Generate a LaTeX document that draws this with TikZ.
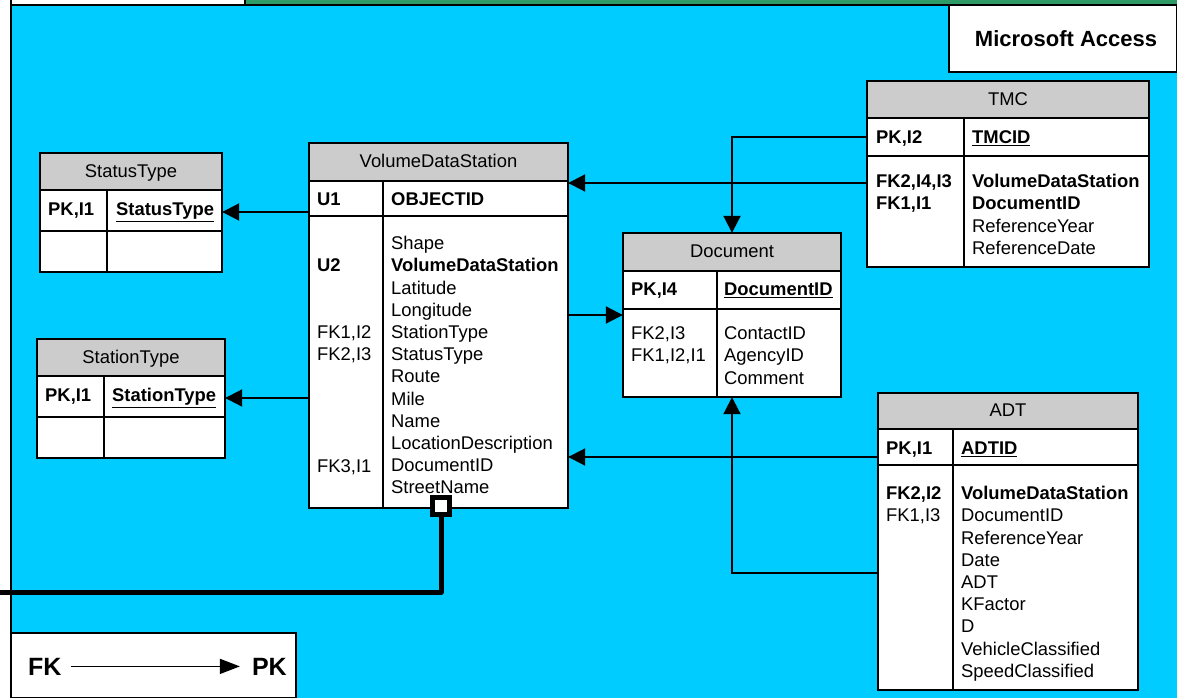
\documentclass[tikz,border=0pt]{standalone}
\usepackage{fontspec}
\setmainfont{Liberation Sans}
\usetikzlibrary{arrows.meta,fit}

\definecolor{bgcyan}{RGB}{0,204,255}
\definecolor{topgreen}{RGB}{46,154,102}
\definecolor{hdrgray}{RGB}{204,204,204}

\newcommand{\fld}{\fontsize{18.4}{22}\selectfont}

\tikzset{
  border/.style={line width=1.4pt},
  fldtxt/.style={anchor=base west, inner sep=0pt, font=\fld},
  ttl/.style={anchor=base, inner sep=0pt, font=\fld},
  fk/.style={line width=2pt, -{Triangle[length=17pt,width=17pt]}},
}

% entity box: name, left, top, right, bottom, header bottom, key-row bottom, divider x
\newcommand{\entity}[8]{%
  \node[fit={(#2,#3) (#4,#5)}, inner sep=0pt, fill=white] (#1) {};
  \fill[hdrgray] (#2,#3) rectangle (#4,#6);
  \draw[border] (#2,#3) rectangle (#4,#5);
  \draw[border] (#2,#6) -- (#4,#6) (#2,#7) -- (#4,#7) (#8,#6) -- (#8,#5);
}
% a column of field names: x, centre y of first line, list
\newcommand{\fieldcol}[3]{%
  \foreach \entry [count=\i from 0] in {#3}
    {\node[fldtxt] at (#1,{#2+6.6+22.2*\i}) {\entry};}
}
\newcommand{\fieldat}[3]{\node[fldtxt] at (#1,{#2+6.6}) {#3};}
\newcommand{\titleat}[3]{\node[ttl] at (#1,{#2+6.6}) {#3};}

\begin{document}
\begin{tikzpicture}[x=1pt,y=-1pt]
\useasboundingbox (0,0) rectangle (1177,698);

% backdrop
\fill[white] (0,0) rectangle (1177,698);
\fill[bgcyan] (11,5) rectangle (1177,698);
\fill[topgreen] (245,0) rectangle (1177,5);
\draw[border] (11,0) -- (11,698);
\draw[border] (11,5) -- (1177,5);
\draw[border] (245,0) -- (245,5);

% title and legend panels
\node[fit={(949,5) (1177,72)}, inner sep=0pt, draw, border, fill=white] (ms) {};
\node[font=\fontsize{22}{26}\selectfont\bfseries, anchor=base] at (1066,47) {Microsoft Access};

\node[fit={(11,633) (296,698)}, inner sep=0pt, draw, border, fill=white] (legend) {};
\node[anchor=base west, inner sep=0pt, font=\fontsize{25}{30}\selectfont\bfseries] (fkl) at (28,675) {FK};
\node[anchor=base east, inner sep=0pt, font=\fontsize{25}{30}\selectfont\bfseries] (pkl) at (287,675) {PK};
\draw[line width=1.5pt, -{Triangle[length=20pt,width=15pt]}, shorten <=9pt, shorten >=12pt] (fkl.east) -- (pkl.west);

% StatusType
\entity{stat}{40}{153}{222}{272}{190}{231}{107}
\titleat{131}{171}{StatusType}
\fieldat{48}{209}{\textbf{PK,I1}}
\fieldat{116}{209}{\underline{\textbf{StatusType}}}

% StationType
\entity{stn}{37}{339}{225}{458}{376}{417}{104}
\titleat{131}{357}{StationType}
\fieldat{45}{395}{\textbf{PK,I1}}
\fieldat{112}{395}{\underline{\textbf{StationType}}}

% VolumeDataStation
\entity{vds}{309}{143}{568}{508}{181}{216}{383}
\titleat{438.5}{161}{VolumeDataStation}
\fieldat{317}{199}{\textbf{U1}}
\fieldat{391}{199}{\textbf{OBJECTID}}
\fieldat{317}{265}{\textbf{U2}}
\fieldat{317}{332}{FK1,I2}
\fieldat{317}{354}{FK2,I3}
\fieldat{317}{466}{FK3,I1}
\fieldcol{391}{243}{Shape,\textbf{VolumeDataStation},Latitude,Longitude,StationType,StatusType,Route,Mile,Name,LocationDescription,DocumentID,StreetName}

% Document
\entity{doc}{623}{233}{841}{397}{271}{309}{717}
\titleat{732}{251}{Document}
\fieldat{631}{289}{\textbf{PK,I4}}
\fieldat{724}{289}{\underline{\textbf{DocumentID}}}
\fieldcol{631}{333}{{FK2,I3},{FK1,I2,I1}}
\fieldcol{724}{333}{ContactID,AgencyID,Comment}

% TMC
\entity{tmc}{867}{81}{1149}{267}{118}{156}{964}
\titleat{1008}{99}{TMC}
\fieldat{876}{137}{\textbf{PK,I2}}
\fieldat{972}{137}{\underline{\textbf{TMCID}}}
\fieldcol{876}{181}{{\textbf{FK2,I4,I3}},{\textbf{FK1,I1}}}
\fieldcol{972}{181}{\textbf{VolumeDataStation},\textbf{DocumentID},ReferenceYear,ReferenceDate}

% ADT
\entity{adt}{878}{393}{1138}{690}{429}{465}{953}
\titleat{1008}{410}{ADT}
\fieldat{886}{448}{\textbf{PK,I1}}
\fieldat{961}{448}{\underline{\textbf{ADTID}}}
\fieldcol{886}{493}{{\textbf{FK2,I2}},{FK1,I3}}
\fieldcol{961}{493}{\textbf{VolumeDataStation},DocumentID,ReferenceYear,Date,ADT,KFactor,D,VehicleClassified,SpeedClassified}

% relationships (FK -> PK)
\draw[fk] (vds.west |- 0,212) -- (stat.east |- 0,212);
\draw[fk] (vds.west |- 0,398) -- (stn.east |- 0,398);
\draw[fk] (tmc.west |- 0,183) -- (vds.east |- 0,183);
\draw[fk] (tmc.west |- 0,137) -| (doc.north);
\draw[fk] (vds.east |- 0,315) -- (doc.west |- 0,315);
\draw[fk] (adt.west |- 0,457) -- (vds.east |- 0,457);
\draw[fk] (adt.west |- 0,573) -| (doc.south);

% outgoing link from the station table
\coordinate (off) at (0,592);
\node[draw, line width=4.5pt, minimum size=17pt, inner sep=0pt, fill=white] (sq) at (441,506) {};
\draw[line width=5pt, line join=round] (sq.south) |- (off);
\end{tikzpicture}
\end{document}
